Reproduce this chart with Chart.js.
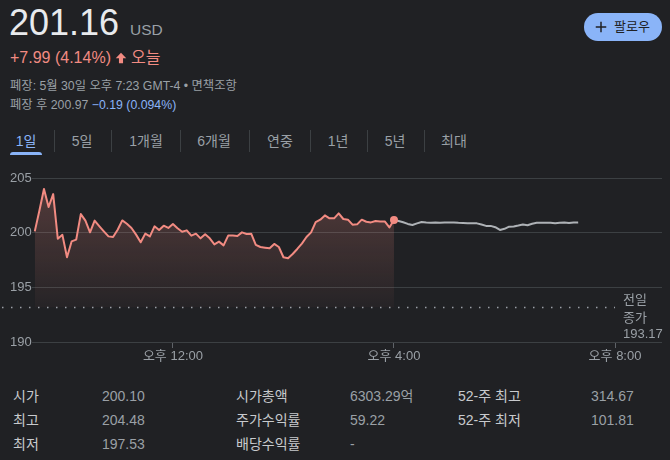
<!DOCTYPE html>
<html><head><meta charset="utf-8">
<script src="https://cdn.jsdelivr.net/npm/chart.js@4/dist/chart.umd.min.js"></script>
<style>
body{margin:0;background:#202124;width:670px;height:460px;overflow:hidden;position:relative;font-family:"Liberation Sans",Arial,"Noto Sans CJK KR",sans-serif;}
.a{position:absolute;white-space:nowrap;line-height:1;}
.sep{position:absolute;top:130px;width:1px;height:22px;background:#3c4043;}
.tab{position:absolute;top:134px;font-size:14px;line-height:1;color:#9aa0a6;transform:translateX(-50%);white-space:nowrap;}
.lbl{color:#c8cacd;font-size:14px;}
.val{color:#9aa0a6;font-size:14px;}
#cv{position:absolute;left:0;top:160px;}
</style></head><body>
<div class="a" style="left:9px;top:5px;font-size:36px;color:#e8eaed">201.16</div>
<div class="a" style="left:130px;top:22px;font-size:15.5px;color:#9aa0a6">USD</div>
<div class="a" style="left:10px;top:50px;font-size:16px;color:#f28b82">+7.99 (4.14%)</div>
<svg style="position:absolute;left:114px;top:51px" width="14" height="14" viewBox="0 0 24 24"><path fill="#f28b82" d="M12 3 L21 12.5 H15.5 V21 H8.5 V12.5 H3 Z"/></svg>
<div class="a" style="left:131px;top:50px;font-size:16px;color:#f28b82">오늘</div>
<div class="a" style="left:10px;top:80px;font-size:12.3px;color:#9aa0a6">폐장: 5월 30일 오후 7:23 GMT-4 • 면책조항</div>
<div class="a" style="left:10px;top:99px;font-size:12.3px;color:#9aa0a6">폐장 후 200.97 <span style="color:#8ab4f8">−0.19 (0.094%)</span></div>

<div style="position:absolute;left:584px;top:13px;width:78px;height:28px;border-radius:14px;background:#8ab4f8"></div>
<svg style="position:absolute;left:592px;top:18px" width="18" height="18" viewBox="0 0 24 24"><path fill="#202124" d="M19 13h-6v6h-2v-6H5v-2h6V5h2v6h6v2z"/></svg>
<div class="a" style="left:614px;top:20px;font-size:13px;color:#202124">팔로우</div>

<div class="tab" style="left:26px;color:#8ab4f8">1일</div>
<div class="tab" style="left:82px">5일</div>
<div class="tab" style="left:146px">1개월</div>
<div class="tab" style="left:214px">6개월</div>
<div class="tab" style="left:280px">연중</div>
<div class="tab" style="left:338px">1년</div>
<div class="tab" style="left:395px">5년</div>
<div class="tab" style="left:454px">최대</div>
<div class="sep" style="left:54px"></div>
<div class="sep" style="left:111px"></div>
<div class="sep" style="left:180px"></div>
<div class="sep" style="left:249px"></div>
<div class="sep" style="left:310px"></div>
<div class="sep" style="left:367px"></div>
<div class="sep" style="left:424px"></div>
<div style="position:absolute;left:10px;top:152px;width:32px;height:3px;border-radius:3px 3px 0 0;background:#8ab4f8"></div>

<canvas id="cv" width="670" height="210"></canvas>

<div class="a" style="left:623px;top:293px;font-size:13px;color:#9aa0a6">전일</div>
<div class="a" style="left:623px;top:311px;font-size:13px;color:#9aa0a6">종가</div>
<div class="a" style="left:623px;top:327px;font-size:13px;color:#9aa0a6">193.17</div>

<div class="a lbl" style="left:13px;top:389px">시가</div>
<div class="a val" style="left:102px;top:389px">200.10</div>
<div class="a lbl" style="left:236px;top:389px">시가총액</div>
<div class="a val" style="left:350px;top:389px">6303.29억</div>
<div class="a lbl" style="left:458px;top:389px">52-주 최고</div>
<div class="a val" style="left:591px;top:389px">314.67</div>
<div class="a lbl" style="left:13px;top:413px">최고</div>
<div class="a val" style="left:102px;top:413px">204.48</div>
<div class="a lbl" style="left:236px;top:413px">주가수익률</div>
<div class="a val" style="left:350px;top:413px">59.22</div>
<div class="a lbl" style="left:458px;top:413px">52-주 최저</div>
<div class="a val" style="left:591px;top:413px">101.81</div>
<div class="a lbl" style="left:13px;top:437px">최저</div>
<div class="a val" style="left:102px;top:437px">197.53</div>
<div class="a lbl" style="left:236px;top:437px">배당수익률</div>
<div class="a val" style="left:350px;top:437px">-</div>

<script>
// ---- data ----
const sessionStart = 570;      // 9:30 (minutes after midnight)
const afterStart = 960;        // 16:00
const stepMinutes = 5;
const sessionValues = [
 200.12, 202.0, 203.99, 202.35, 203.53, 199.45, 199.8, 197.75, 199.2, 199.36,
 201.7, 201.1, 200.03, 201.1, 200.6, 200.12, 199.66, 199.6, 200.27, 201.12,
 200.82, 200.43, 199.82, 199.12, 199.91, 199.66, 200.58, 200.24, 200.64, 200.43,
 200.79, 200.4, 200.09, 200.21, 199.73, 199.91, 199.48, 199.85, 199.48, 198.93,
 199.18, 198.84, 199.73, 199.73, 199.7, 200.03, 199.88, 199.91, 198.88, 198.69,
 198.63, 198.57, 198.97, 198.69, 197.75, 197.66, 198.05, 198.51, 199.0, 199.6,
 200.03, 200.97, 201.19, 201.58, 201.31, 201.31, 201.76, 201.25, 201.19, 200.73,
 200.76, 201.19, 201.0, 200.94, 201.07, 201.03, 201.03, 200.48, 201.16
];
const afterHoursValues = [
 201.16, 201.07, 200.95, 200.8, 200.7, 200.85, 200.98, 200.92, 200.9, 200.92,
 200.9, 200.94, 200.92, 200.93, 200.9, 200.88, 200.86, 200.85, 200.85, 200.75,
 200.62, 200.62, 200.5, 200.25, 200.35, 200.55, 200.57, 200.65, 200.74, 200.68,
 200.82, 200.91, 200.91, 200.9, 200.91, 200.86, 200.9, 200.94, 200.88, 200.92,
 200.94
];
const prevClose = 193.17;
const yTicks = [190, 195, 200, 205];
const xTickMinutes = [720, 960, 1200];
const xTickLabels = ['오후 12:00', '오후 4:00', '오후 8:00'];

const sessionData = sessionValues.map((v, i) => ({x: sessionStart + i * stepMinutes, y: v}));
const afterData = afterHoursValues.map((v, i) => ({x: afterStart + i * stepMinutes, y: v}));

const FONT = '"Liberation Sans", Arial, "Noto Sans CJK KR", sans-serif';

const prevClosePlugin = {
  id: 'prevCloseLine',
  beforeDatasetsDraw(chart) {
    const {ctx, scales: {x, y}} = chart;
    const py = Math.round(y.getPixelForValue(prevClose)) + 0.5;
    ctx.save();
    ctx.strokeStyle = '#9aa0a6';
    ctx.lineWidth = 1.5;
    ctx.setLineDash([1.5, 7.5]);
    ctx.beginPath();
    ctx.moveTo(2, py);
    ctx.lineTo(x.getPixelForValue(xTickMinutes[2]), py);
    ctx.stroke();
    ctx.restore();
  }
};

new Chart(document.getElementById('cv'), {
  type: 'line',
  data: {
    datasets: [
      {
        data: sessionData,
        borderColor: '#f28b82',
        borderWidth: 2,
        tension: 0,
        borderJoinStyle: 'round',
        fill: {value: prevClose},
        backgroundColor: (ctx) => {
          const c = ctx.chart;
          if (!c.chartArea) return 'rgba(242,139,130,0.1)';
          const ys = c.scales.y;
          const g = c.ctx.createLinearGradient(0, ys.getPixelForValue(204), 0, ys.getPixelForValue(prevClose));
          g.addColorStop(0, 'rgba(242,139,130,0.24)');
          g.addColorStop(1, 'rgba(242,139,130,0.03)');
          return g;
        },
        pointRadius: (ctx) => ctx.dataIndex === sessionValues.length - 1 ? 4 : 0,
        pointBackgroundColor: '#f28b82',
        pointBorderWidth: 0,
        pointHoverRadius: 0,
        order: 1
      },
      {
        data: afterData,
        borderColor: '#aeb2b6',
        borderWidth: 2,
        tension: 0,
        borderJoinStyle: 'round',
        fill: false,
        pointRadius: 0,
        order: 2
      }
    ]
  },
  options: {
    responsive: false,
    animation: false,
    maintainAspectRatio: false,
    events: [],
    layout: {padding: {left: 10, right: 8, top: 18, bottom: 0}},
    plugins: {legend: {display: false}, tooltip: {enabled: false}},
    scales: {
      x: {
        type: 'linear',
        min: 567,
        max: 1251,
        afterBuildTicks: (s) => { s.ticks = xTickMinutes.map(v => ({value: v})); },
        afterFit: (s) => { s.height = 28; },
        grid: {drawOnChartArea: false, drawTicks: true, tickLength: 6, color: '#5f6368'},
        border: {display: false},
        ticks: {
          padding: 1, color: '#9aa0a6', maxRotation: 0, autoSkip: false,
          font: {size: 13, family: FONT},
          callback: (v, i) => xTickLabels[i]
        }
      },
      y: {
        min: 190,
        max: 205,
        afterBuildTicks: (s) => { s.ticks = yTicks.map(v => ({value: v})); },
        afterFit: (s) => { s.width = 22; },
        grid: {color: '#3c4043', drawTicks: false, lineWidth: 1},
        border: {display: false},
        ticks: {crossAlign: 'far', padding: 0, color: '#9aa0a6', font: {size: 13, family: FONT}}
      }
    }
  },
  plugins: [prevClosePlugin]
});
</script>
</body></html>
